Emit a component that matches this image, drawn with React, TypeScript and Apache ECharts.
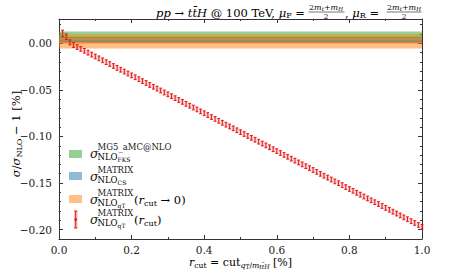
import React, { useEffect, useRef } from "react";
import * as echarts from "echarts";

const rcut = [
  0.01, 0.02, 0.03, 0.04, 0.05, 0.06, 0.07, 0.08, 0.09, 0.1,
  0.11, 0.12, 0.13, 0.14, 0.15, 0.16, 0.17, 0.18, 0.19, 0.2,
  0.21, 0.22, 0.23, 0.24, 0.25, 0.26, 0.27, 0.28, 0.29, 0.3,
  0.31, 0.32, 0.33, 0.34, 0.35, 0.36, 0.37, 0.38, 0.39, 0.4,
  0.41, 0.42, 0.43, 0.44, 0.45, 0.46, 0.47, 0.48, 0.49, 0.5,
  0.51, 0.52, 0.53, 0.54, 0.55, 0.56, 0.57, 0.58, 0.59, 0.6,
  0.61, 0.62, 0.63, 0.64, 0.65, 0.66, 0.67, 0.68, 0.69, 0.7,
  0.71, 0.72, 0.73, 0.74, 0.75, 0.76, 0.77, 0.78, 0.79, 0.8,
  0.81, 0.82, 0.83, 0.84, 0.85, 0.86, 0.87, 0.88, 0.89, 0.9,
  0.91, 0.92, 0.93, 0.94, 0.95, 0.96, 0.97, 0.98, 0.99, 1.0,
];

const ratio = [
  0.0105, 0.007, 0.001, -0.002, -0.0041, -0.0061, -0.0081, -0.0101, -0.0122, -0.0142,
  -0.0162, -0.0183, -0.0203, -0.0223, -0.0244, -0.0264, -0.0284, -0.0304, -0.0325, -0.0345,
  -0.0365, -0.0386, -0.0406, -0.0426, -0.0447, -0.0467, -0.0487, -0.0507, -0.0528, -0.0548,
  -0.0568, -0.0589, -0.0609, -0.0629, -0.065, -0.067, -0.069, -0.071, -0.0731, -0.0751,
  -0.0771, -0.0792, -0.0812, -0.0832, -0.0853, -0.0873, -0.0893, -0.0913, -0.0934, -0.0954,
  -0.0974, -0.0995, -0.1015, -0.1035, -0.1056, -0.1076, -0.1096, -0.1116, -0.1137, -0.1157,
  -0.1177, -0.1198, -0.1218, -0.1238, -0.1259, -0.1279, -0.1299, -0.1319, -0.134, -0.136,
  -0.138, -0.1401, -0.1421, -0.1441, -0.1462, -0.1482, -0.1502, -0.1522, -0.1543, -0.1563,
  -0.1583, -0.1604, -0.1624, -0.1644, -0.1665, -0.1685, -0.1705, -0.1725, -0.1746, -0.1766,
  -0.1786, -0.1807, -0.1827, -0.1847, -0.1868, -0.1888, -0.1908, -0.1928, -0.1949, -0.1969,
];

const ratioErr = [
  0.0035, 0.003, 0.0027, 0.0025, 0.0025, 0.0025, 0.0025, 0.0025, 0.0025, 0.0025,
  0.0025, 0.0025, 0.0025, 0.0025, 0.0025, 0.0025, 0.0025, 0.0025, 0.0025, 0.0025,
  0.0025, 0.0025, 0.0025, 0.0025, 0.0025, 0.0025, 0.0025, 0.0025, 0.0025, 0.0025,
  0.0025, 0.0025, 0.0025, 0.0025, 0.0025, 0.0025, 0.0025, 0.0025, 0.0025, 0.0025,
  0.0025, 0.0025, 0.0025, 0.0025, 0.0025, 0.0025, 0.0025, 0.0025, 0.0025, 0.0025,
  0.0025, 0.0025, 0.0025, 0.0025, 0.0025, 0.0025, 0.0025, 0.0025, 0.0025, 0.0025,
  0.0025, 0.0025, 0.0025, 0.0025, 0.0025, 0.0025, 0.0025, 0.0025, 0.0025, 0.0025,
  0.0025, 0.0025, 0.0025, 0.0025, 0.0025, 0.0025, 0.0025, 0.0025, 0.0025, 0.0025,
  0.0025, 0.0025, 0.0025, 0.0025, 0.0025, 0.0025, 0.0025, 0.0025, 0.0025, 0.0025,
  0.0025, 0.0025, 0.0025, 0.0025, 0.0025, 0.0025, 0.0025, 0.0025, 0.0025, 0.0025,
];

// horizontal uncertainty bands: MG5_aMC@NLO (FKS), MATRIX (CS), MATRIX qT (r_cut -> 0)
const bandLow = [0.0014, -0.0004, -0.0056];
const bandHigh = [0.0125, 0.0054, 0.0097];
const bandCentral = [0.0062, 0.0022, 0.0009];

const xTicks = [0, 0.2, 0.4, 0.6, 0.8, 1.0];
const yTicks = [-0.2, -0.15, -0.1, -0.05, 0.0];

const SERIF = "DejaVu Serif";
const TXT = "#1a1a1a";
const AX = "#333";
const bandFill = ["rgba(44,160,44,0.5)", "rgba(31,119,180,0.5)", "rgba(255,127,14,0.5)"];
const bandLine = ["#2ca02c", "#1f77b4", "#ff7f0e"];
const ERR = "#e31a1c";

const richBase = (fs: number) => ({
  r: { fontFamily: SERIF, fontSize: fs, lineHeight: fs + 3, color: TXT },
  i: { fontFamily: SERIF, fontSize: fs, lineHeight: fs + 3, color: TXT, fontStyle: "italic" },
  sub: { fontFamily: SERIF, fontSize: fs * 0.7, lineHeight: fs * 0.7, color: TXT, verticalAlign: "bottom" },
  subi: { fontFamily: SERIF, fontSize: fs * 0.7, lineHeight: fs * 0.7, color: TXT, verticalAlign: "bottom", fontStyle: "italic" },
  ss: { fontFamily: SERIF, fontSize: fs * 0.55, lineHeight: fs * 0.55, color: TXT, verticalAlign: "bottom" },
  ssi: { fontFamily: SERIF, fontSize: fs * 0.55, lineHeight: fs * 0.55, color: TXT, verticalAlign: "bottom", fontStyle: "italic" },
});

function legendEntry(yc: number, sup: string, subTxt: string, subSub: string, extra: string | null): any[] {
  const els: any[] = [];
  els.push({ type: "text", x: 90, y: yc - 1, style: { text: "σ", fontFamily: SERIF, fontSize: 12.5, fontStyle: "italic", fill: TXT, align: "left", verticalAlign: "middle" } });
  els.push({ type: "text", x: 97.5, y: yc - 7, style: { text: sup, fontFamily: SERIF, fontSize: 8.5, fill: TXT, align: "left", verticalAlign: "middle" } });
  els.push({
    type: "text", x: 97.5, y: yc + 3,
    style: {
      text: `{a|${subTxt}}{b|${subSub}}`, align: "left", verticalAlign: "middle",
      rich: {
        a: { fontFamily: SERIF, fontSize: 8.5, lineHeight: 10, color: TXT },
        b: { fontFamily: SERIF, fontSize: 6, lineHeight: 6, color: TXT, verticalAlign: "bottom" },
      },
    },
  });
  if (extra) {
    els.push({ type: "text", x: 134, y: yc, style: { text: extra, align: "left", verticalAlign: "middle", rich: richBase(11.5) } });
  }
  return els;
}

export default function App() {
  const ref = useRef<HTMLDivElement>(null);
  useEffect(() => {
    if (!ref.current) return;
    const chart = echarts.init(ref.current, null, { renderer: "svg" });

    const bandData = bandLow.map((lo, i) => [i, lo, bandHigh[i], bandCentral[i]]);
    const errData = rcut.map((x, i) => [x, ratio[i], ratioErr[i]]);

    const isTick = (v: number, arr: number[]) => arr.some((t) => Math.abs(t - v) < 1e-6);

    const yCommon: any = {
      type: "value",
      min: -0.21,
      max: 0.026,
      axisLine: { show: true, onZero: false, lineStyle: { color: AX, width: 1 } },
      splitLine: { show: false },
    };

    const legendEls: any[] = [];
    const patchY = [154, 176, 199];
    patchY.forEach((y, i) => {
      legendEls.push({ type: "rect", shape: { x: 69, y: y - 4, width: 13, height: 8 }, style: { fill: bandFill[i] } });
    });
    const ex = 75.7;
    legendEls.push({ type: "rect", shape: { x: ex - 1.8, y: 211, width: 3.6, height: 17 }, style: { fill: "rgba(230,60,60,0.3)" } });
    legendEls.push({ type: "line", shape: { x1: ex, y1: 211, x2: ex, y2: 228 }, style: { stroke: ERR, lineWidth: 1 } });
    legendEls.push({ type: "line", shape: { x1: ex - 1.6, y1: 211, x2: ex + 1.6, y2: 211 }, style: { stroke: ERR, lineWidth: 1 } });
    legendEls.push({ type: "line", shape: { x1: ex - 1.6, y1: 228, x2: ex + 1.6, y2: 228 }, style: { stroke: ERR, lineWidth: 1 } });
    legendEls.push({ type: "rect", shape: { x: ex - 1.2, y: 218.3, width: 2.4, height: 2.4 }, style: { fill: ERR } });

    legendEls.push(...legendEntry(154, "MG5_aMC@NLO", "NLO", "FKS", null));
    legendEls.push(...legendEntry(177, "MATRIX", "NLO", "CS", null));
    legendEls.push(...legendEntry(200, "MATRIX", "NLO", "qT", "{r|(}{i|r}{sub|cut}{r| → 0)}"));
    legendEls.push(...legendEntry(220, "MATRIX", "NLO", "qT", "{r|(}{i|r}{sub|cut}{r|)}"));

    const frac = (cx: number, x1: number, x2: number) => [
      {
        type: "text", x: cx, y: 7.5,
        style: {
          text: "{n|2}{ni|m}{ns|t}{n|+}{ni|m}{nsi|H}", align: "center", verticalAlign: "middle",
          rich: {
            n: { fontFamily: SERIF, fontSize: 8, lineHeight: 9, color: TXT },
            ni: { fontFamily: SERIF, fontSize: 8, lineHeight: 9, color: TXT, fontStyle: "italic" },
            ns: { fontFamily: SERIF, fontSize: 5.5, lineHeight: 5.5, color: TXT, verticalAlign: "bottom", fontStyle: "italic" },
            nsi: { fontFamily: SERIF, fontSize: 5.5, lineHeight: 5.5, color: TXT, verticalAlign: "bottom", fontStyle: "italic" },
          },
        },
      },
      { type: "line", shape: { x1, y1: 12, x2, y2: 12 }, style: { stroke: TXT, lineWidth: 0.6 } },
      { type: "text", x: cx, y: 16.5, style: { text: "2", fontFamily: SERIF, fontSize: 8, fill: TXT, align: "center", verticalAlign: "middle" } },
    ];

    const option: any = {
      animation: false,
      backgroundColor: "#fff",
      textStyle: { fontFamily: SERIF },
      grid: { left: 59, right: 32, top: 19, bottom: 34, containLabel: false },
      xAxis: [
        {
          type: "value", min: 0, max: 1, interval: 0.2, position: "bottom",
          axisLine: { show: true, onZero: false, lineStyle: { color: AX, width: 1 } },
          axisTick: { show: true, inside: true, length: 4, lineStyle: { color: AX } },
          minorTick: { show: true, splitNumber: 2, length: 2, lineStyle: { color: AX } },
          splitLine: { show: false },
          axisLabel: {
            margin: 5, fontFamily: SERIF, fontSize: 10.5, color: TXT,
            formatter: (v: number) => (isTick(v, xTicks) ? v.toFixed(1) : ""),
          },
        },
        {
          type: "value", min: 0, max: 1, interval: 0.2, position: "top",
          axisLine: { show: true, onZero: false, lineStyle: { color: AX, width: 1 } },
          axisTick: { show: true, inside: true, length: 4, lineStyle: { color: AX } },
          minorTick: { show: true, splitNumber: 2, length: 2, lineStyle: { color: AX } },
          splitLine: { show: false },
          axisLabel: { show: false },
        },
      ],
      yAxis: [
        {
          ...yCommon, position: "left", splitNumber: 5, minInterval: 0.05, maxInterval: 0.05,
          axisTick: { show: true, inside: true, length: 4, lineStyle: { color: AX } },
          axisLabel: {
            margin: 7, fontFamily: SERIF, fontSize: 10.5, color: TXT,
            formatter: (v: number) => (isTick(v, yTicks) ? (v < -1e-9 ? "−" : "") + Math.abs(v).toFixed(2) : ""),
          },
        },
        {
          ...yCommon, position: "left", interval: 0.01,
          axisLine: { show: false, onZero: false },
          axisTick: { show: true, inside: true, length: 2, lineStyle: { color: AX } },
          axisLabel: { show: false },
        },
        {
          ...yCommon, position: "right", splitNumber: 5, minInterval: 0.05, maxInterval: 0.05,
          axisTick: { show: true, inside: true, length: 4, lineStyle: { color: AX } },
          axisLabel: { show: false },
        },
        {
          ...yCommon, position: "right", interval: 0.01,
          axisLine: { show: false, onZero: false },
          axisTick: { show: true, inside: true, length: 2, lineStyle: { color: AX } },
          axisLabel: { show: false },
        },
      ],
      series: [
        {
          type: "custom",
          name: "bands",
          xAxisIndex: 0,
          yAxisIndex: 0,
          silent: true,
          clip: true,
          data: bandData,
          renderItem: (params: any, api: any) => {
            const i = api.value(0);
            const lo = api.value(1);
            const hi = api.value(2);
            const c = api.value(3);
            const p1 = api.coord([0, hi]);
            const p2 = api.coord([1, lo]);
            const pc = api.coord([0, c]);
            const pc2 = api.coord([1, c]);
            return {
              type: "group",
              children: [
                { type: "rect", shape: { x: p1[0], y: p1[1], width: p2[0] - p1[0], height: p2[1] - p1[1] }, style: { fill: bandFill[i] } },
                { type: "line", shape: { x1: pc[0], y1: pc[1], x2: pc2[0], y2: pc2[1] }, style: { stroke: bandLine[i], lineWidth: 1 } },
              ],
            };
          },
        },
        {
          type: "custom",
          name: "MATRIX NLO qT (r_cut)",
          xAxisIndex: 0,
          yAxisIndex: 0,
          clip: false,
          data: errData,
          renderItem: (params: any, api: any) => {
            const x = api.value(0);
            const y = api.value(1);
            const e = api.value(2);
            const top = api.coord([x, y + e]);
            const bot = api.coord([x, y - e]);
            const cx = top[0];
            return {
              type: "group",
              children: [
                { type: "rect", shape: { x: cx - 1.6, y: top[1] - 0.5, width: 3.2, height: bot[1] - top[1] + 1 }, style: { fill: "rgba(230,60,60,0.25)" } },
                { type: "line", shape: { x1: cx, y1: top[1], x2: cx, y2: bot[1] }, style: { stroke: ERR, lineWidth: 1 } },
                { type: "line", shape: { x1: cx - 1.4, y1: top[1], x2: cx + 1.4, y2: top[1] }, style: { stroke: ERR, lineWidth: 1 } },
                { type: "line", shape: { x1: cx - 1.4, y1: bot[1], x2: cx + 1.4, y2: bot[1] }, style: { stroke: ERR, lineWidth: 1 } },
              ],
            };
          },
        },
      ],
      graphic: [
        {
          type: "text", x: 305, y: 12.5,
          style: {
            text: "{i|pp}{r| → }{i|tt\u0304H}{r| @ 100 TeV, }{i|μ}{sub|F}{r| =}",
            align: "right", verticalAlign: "middle", rich: richBase(11.5),
          },
        },
        ...frac(326, 308.5, 344.5),
        {
          type: "text", x: 345, y: 12.5,
          style: { text: "{r|, }{i|μ}{sub|R}{r| =}", align: "left", verticalAlign: "middle", rich: richBase(11.5) },
        },
        ...frac(404, 386.5, 421.5),
        {
          type: "text", x: 240.5, y: 262,
          style: {
            text: "{i|r}{sub|cut}{r| = cut}{subi|q}{ss|T}{sub|/}{subi|m}{ssi|tt\u0304H}{r| [%]}",
            align: "center", verticalAlign: "middle", rich: richBase(11),
          },
        },
        {
          type: "text", x: 16, y: 134, rotation: Math.PI / 2,
          style: {
            text: "{i|σ}{r|/}{i|σ}{sub|NLO}{r| − 1 [%]}",
            align: "center", verticalAlign: "middle", rich: richBase(11.5),
          },
        },
        ...legendEls,
      ],
    };

    chart.setOption(option);
    return () => chart.dispose();
  }, []);

  return <div ref={ref} style={{ position: "fixed", left: 0, top: 0, width: 454, height: 273 }} />;
}
